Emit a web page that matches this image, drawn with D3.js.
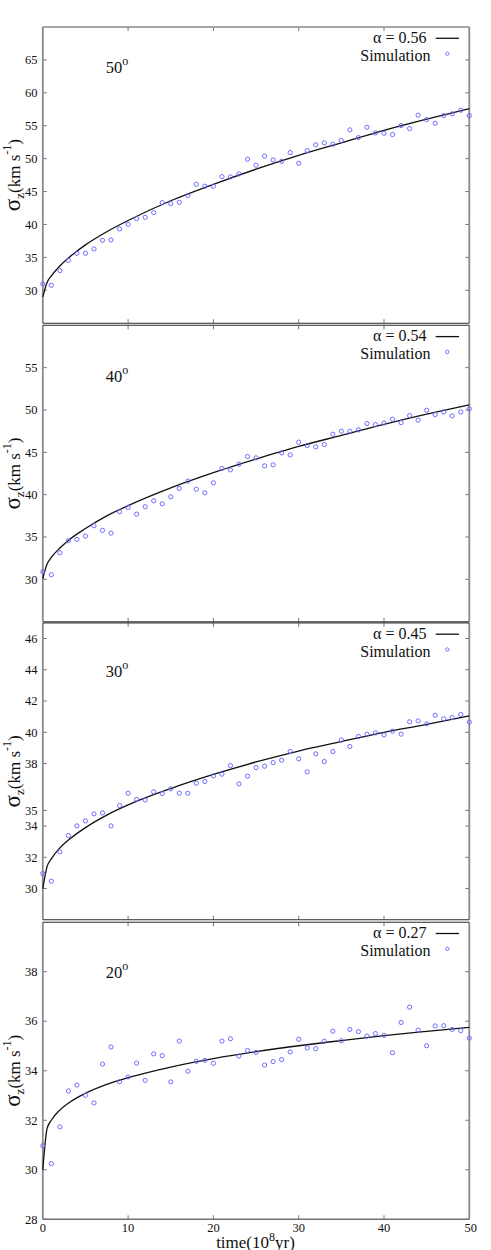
<!DOCTYPE html>
<html>
<head>
<meta charset="utf-8">
<script src="https://cdn.jsdelivr.net/npm/d3@7"></script>
<style>
  html, body { margin: 0; padding: 0; background: #fff; }
  svg { display: block; }
  svg text { font-family: "Liberation Serif", Tinos, "Times New Roman", "DejaVu Serif", serif; }
</style>
</head>
<body>
<svg id="chart" width="491" height="1250" font-family="Liberation Serif, Tinos, Times New Roman, DejaVu Serif, serif"></svg>
<script>
// ---------------- data ----------------
const simTime = [0,1,2,3,4,5,6,7,8,9,10,11,12,13,14,15,16,17,18,19,20,21,22,23,24,25,26,27,28,29,30,31,32,33,34,35,36,37,38,39,40,41,42,43,44,45,46,47,48,49,50];

const sim50 = [30.96,30.76,32.99,34.56,35.62,35.62,36.28,37.60,37.65,39.32,40.03,40.89,41.09,41.80,43.32,43.17,43.37,44.39,46.11,45.81,45.81,47.27,47.22,47.68,49.91,49.00,50.37,49.81,49.60,50.92,49.30,51.23,52.09,52.39,52.19,52.75,54.37,53.20,54.77,53.91,53.86,53.66,55.03,54.57,56.60,55.94,55.38,56.55,56.80,57.36,56.55];
const sim40 = [30.90,30.55,33.14,34.56,34.72,35.11,36.33,35.78,35.46,37.98,38.49,37.70,38.57,39.28,38.92,39.75,40.73,41.60,40.65,40.22,41.40,43.09,42.93,43.60,44.50,44.35,43.40,43.52,44.94,44.70,46.20,45.80,45.64,45.92,47.14,47.49,47.49,47.65,48.40,48.28,48.47,48.91,48.51,49.34,48.79,49.97,49.46,49.77,49.30,49.77,50.13];
const sim30 = [30.96,30.47,32.35,33.39,34.01,34.33,34.78,34.84,34.01,35.31,36.10,35.70,35.67,36.19,36.08,36.38,36.10,36.10,36.74,36.85,37.21,37.32,37.87,36.70,37.19,37.74,37.83,38.06,38.21,38.77,38.30,37.47,38.62,38.13,38.77,39.51,39.09,39.73,39.88,39.96,39.83,40.07,39.88,40.67,40.73,40.54,41.09,40.86,40.94,41.14,40.65];
const sim20 = [30.97,30.25,31.73,33.18,33.42,33.01,32.70,34.27,34.96,33.56,33.75,34.31,33.61,34.68,34.61,33.55,35.20,33.98,34.38,34.42,34.30,35.20,35.29,34.59,34.82,34.74,34.23,34.37,34.45,34.76,35.27,34.92,34.89,35.19,35.60,35.21,35.67,35.58,35.40,35.50,35.43,34.73,35.95,36.57,35.64,35.01,35.81,35.82,35.67,35.62,35.32];

const fitTime = [0,0.5,1,2,3,5,7.5,10,15,20,25,30,35,40,45,50];
const fit50 = [29.0,31.2,32.2,33.7,34.9,36.9,38.9,40.6,43.6,46.1,48.4,50.5,52.4,54.3,56.0,57.6];
const fit40 = [30.1,31.8,32.6,33.7,34.6,36.0,37.5,38.7,40.8,42.6,44.2,45.7,47.0,48.3,49.5,50.6];
const fit30 = [30.0,31.4,31.9,32.6,33.1,33.9,34.7,35.35,36.4,37.3,38.1,38.8,39.4,40.0,40.5,41.05];
const fit20 = [30.0,31.66,32.0,32.41,32.69,33.09,33.45,33.72,34.15,34.49,34.77,35.01,35.22,35.42,35.59,35.75];

const yTicks50 = [30,35,40,45,50,55,60,65];
const yTicks40 = [30,35,40,45,50,55];
const yTicks30 = [30,32,34,35,38,40,42,44,46];
const yTicks20 = [28,30,32,34,36,38];
const xTicks = [0,10,20,30,40,50];

const alphaLabels = ["0.56","0.54","0.45","0.27"];
const angleLabels = ["50","40","30","20"];

// ---------------- layout ----------------
const FONT = "'Liberation Serif', Tinos, 'Times New Roman', 'DejaVu Serif', serif";
const svg = d3.select("#chart");
const x = d3.scaleLinear().domain([0,50]).range([42.8,469.3]);

const panels = [
  {sim: sim50, fit: fit50, yd:[25,70], yt: yTicks50, top:27.0,  bottom:323.2, angleY:73.3,  topColor:"#8a8a8a", botColor:"#2a2a2a"},
  {sim: sim40, fit: fit40, yd:[25,60], yt: yTicks40, top:325.3, bottom:621.7, angleY:382.3, topColor:"#2a2a2a", botColor:"#3a3a3a"},
  {sim: sim30, fit: fit30, yd:[28,47], yt: yTicks30, top:622.9, bottom:919.8, angleY:677.3, topColor:"#3a3a3a", botColor:"#2a2a2a"},
  {sim: sim20, fit: fit20, yd:[28,40], yt: yTicks20, top:922.2, bottom:1219.3, angleY:978.3, topColor:"#2a2a2a", botColor:"#707070"}
];

const tickLen = 4;
const frameGray = "#8a8a8a";

panels.forEach((p, i) => {
  const y = d3.scaleLinear().domain(p.yd).range([p.bottom, p.top]);
  const g = svg.append("g").style("font-family", FONT);
  const x0 = x.range()[0], x1 = x.range()[1];

  // ticks on left & right (inward)
  p.yt.forEach(v => {
    g.append("line").attr("x1", x0).attr("x2", x0 + tickLen).attr("y1", y(v)).attr("y2", y(v))
      .attr("stroke", "#777").attr("stroke-width", 1);
    g.append("line").attr("x1", x1).attr("x2", x1 - tickLen).attr("y1", y(v)).attr("y2", y(v))
      .attr("stroke", "#777").attr("stroke-width", 1);
  });
  // ticks on top & bottom (inward)
  xTicks.slice(1, -1).forEach(t => {
    g.append("line").attr("x1", x(t)).attr("x2", x(t)).attr("y1", p.top).attr("y2", p.top + tickLen)
      .attr("stroke", "#777").attr("stroke-width", 1);
    g.append("line").attr("x1", x(t)).attr("x2", x(t)).attr("y1", p.bottom).attr("y2", p.bottom - tickLen)
      .attr("stroke", "#777").attr("stroke-width", 1);
  });

  // frame
  g.append("line").attr("x1", x0).attr("x2", x0).attr("y1", p.top).attr("y2", p.bottom)
    .attr("stroke", frameGray).attr("stroke-width", 1.8);
  g.append("line").attr("x1", x1).attr("x2", x1).attr("y1", p.top).attr("y2", p.bottom)
    .attr("stroke", frameGray).attr("stroke-width", 1.8);
  g.append("line").attr("x1", x0).attr("x2", x1).attr("y1", p.top).attr("y2", p.top)
    .attr("stroke", p.topColor).attr("stroke-width", i === 0 ? 1.6 : 1.1);
  g.append("line").attr("x1", x0).attr("x2", x1).attr("y1", p.bottom).attr("y2", p.bottom)
    .attr("stroke", p.botColor).attr("stroke-width", i === 3 ? 1.6 : 1.1);

  // y tick labels
  g.selectAll("text.yt").data(p.yt).enter().append("text")
    .attr("x", 37.5).attr("y", d => y(d)).attr("dy", "0.34em")
    .attr("text-anchor", "end").attr("font-size", 12.5).attr("fill", "#111")
    .style("font-family", FONT)
    .text(d => d);

  // fitted curve
  const line = d3.line().x((d, k) => x(fitTime[k])).y(d => y(d)).curve(d3.curveMonotoneX);
  g.append("path").datum(p.fit).attr("d", line)
    .attr("fill", "none").attr("stroke", "#111").attr("stroke-width", 1.3);

  // simulation points
  g.selectAll("circle.sim").data(p.sim).enter().append("circle")
    .attr("cx", (d, k) => x(simTime[k])).attr("cy", d => y(d)).attr("r", 2.1)
    .attr("fill", "none").attr("stroke", "#6666ff").attr("stroke-width", 0.95);

  // legend
  g.append("text").attr("x", 426.5).attr("y", p.top + 16.0)
    .attr("text-anchor", "end").attr("font-size", 16).attr("fill", "#111")
    .style("font-family", FONT)
    .text("\u03B1 = " + alphaLabels[i]);
  g.append("line").attr("x1", 435.7).attr("x2", 459).attr("y1", p.top + 11.3).attr("y2", p.top + 11.3)
    .attr("stroke", "#111").attr("stroke-width", 1.3);
  g.append("text").attr("x", 430.5).attr("y", p.top + 33.8)
    .attr("text-anchor", "end").attr("font-size", 16).attr("fill", "#111")
    .style("font-family", FONT).text("Simulation");
  g.append("circle").attr("cx", 447.3).attr("cy", p.top + 26.6).attr("r", 1.7)
    .attr("fill", "none").attr("stroke", "#6666ff").attr("stroke-width", 0.9);

  // angle label
  const al = g.append("text").attr("x", 105.8).attr("y", p.angleY).attr("font-size", 16.5).attr("fill", "#111")
    .style("font-family", FONT);
  al.append("tspan").text(angleLabels[i]);
  al.append("tspan").attr("font-size", 12).attr("dy", -8.3).text("o");

  // y axis label
  const cy = (p.top + p.bottom) / 2;
  const yl = g.append("text").attr("transform", `translate(20,${cy}) rotate(-90)`)
    .attr("text-anchor", "middle").attr("fill", "#111").style("font-family", FONT);
  yl.append("tspan").attr("font-size", 23).text("\u03C3");
  yl.append("tspan").attr("font-size", 13).attr("dy", 4).text("z");
  yl.append("tspan").attr("font-size", 17).attr("dy", -4).text("(km s");
  yl.append("tspan").attr("font-size", 12).attr("dy", -9).text("-1");
  yl.append("tspan").attr("font-size", 17).attr("dy", 9).text(")");

  // x tick labels on bottom panel
  if (i === 3) {
    g.selectAll("text.xt").data(xTicks).enter().append("text")
      .attr("x", d => x(d) + (d === 50 ? 1.5 : 0)).attr("y", 1232)
      .attr("text-anchor", "middle").attr("font-size", 12.5).attr("fill", "#111")
      .style("font-family", FONT)
      .text(d => d);
  }
});

// x axis title
const xl = svg.append("text").attr("x", 255.5).attr("y", 1247.5)
  .attr("text-anchor", "middle").attr("font-size", 17).attr("fill", "#111")
  .style("font-family", FONT);
xl.append("tspan").text("time(10");
xl.append("tspan").attr("font-size", 12).attr("dy", -7).text("8");
xl.append("tspan").attr("dy", 7).text("yr)");
</script>
</body>
</html>
